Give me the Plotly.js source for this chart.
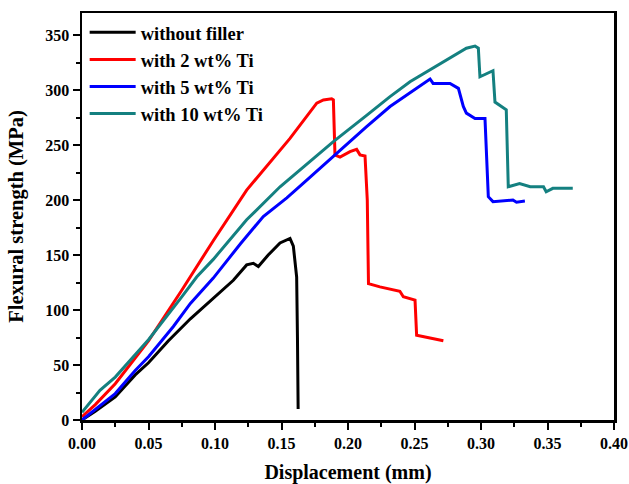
<!DOCTYPE html>
<html>
<head>
<meta charset="utf-8">
<script src="https://cdn.plot.ly/plotly-3.0.1.min.js"></script>
<style>
  html, body { margin: 0; padding: 0; background: #fff; }
  #chart { width: 629px; height: 484px; }
</style>
</head>
<body>
<div id="chart"></div>
<script>
// Flexural load-displacement curves, Ti-filled composites
const seriesNames = ["without filler", "with 2 wt% Ti", "with 5 wt% Ti", "with 10 wt% Ti"];
const seriesColors = ["#000000", "#ff0000", "#0000ff", "#148080"];

const xNoFiller = [0, 0.010, 0.025, 0.040, 0.050, 0.065, 0.0815, 0.0985, 0.1138, 0.1238, 0.1288, 0.1326, 0.140, 0.1489, 0.1564, 0.1589, 0.1614, 0.162, 0.1625];
const yNoFiller = [0, 8, 21, 41, 52, 72, 92, 110, 127, 141, 142.5, 139.5, 150, 161, 165, 158, 130, 75, 10];

const xTi2 = [0, 0.010, 0.025, 0.050, 0.075, 0.0987, 0.1238, 0.1489, 0.1564, 0.1765, 0.1815, 0.1877, 0.189, 0.1902, 0.194, 0.2015, 0.2065, 0.209, 0.2128, 0.2145, 0.2154, 0.224, 0.239, 0.2416, 0.2504, 0.2516, 0.2717];
const yTi2 = [3, 14, 33, 72, 118, 163, 209, 246, 256, 288, 291, 292, 291, 241, 239, 244, 246, 241, 240, 200, 124, 121, 117, 112, 109, 77, 72];

const xTi5 = [0, 0.0135, 0.025, 0.040, 0.050, 0.0687, 0.0815, 0.0987, 0.119, 0.1363, 0.154, 0.169, 0.179, 0.189, 0.214, 0.2316, 0.239, 0.2617, 0.264, 0.2767, 0.283, 0.2867, 0.289, 0.2955, 0.303, 0.3055, 0.309, 0.324, 0.3267, 0.333];
const yTi5 = [0, 13, 24, 45, 57.5, 85, 106, 129, 160, 185, 202, 218, 229, 239.5, 266.6, 285, 291, 310, 306, 306, 301.5, 285, 279, 274, 274, 203, 198.5, 200, 198, 199];

const xTi10 = [0, 0.0135, 0.025, 0.050, 0.075, 0.0862, 0.0987, 0.1238, 0.1489, 0.169, 0.189, 0.214, 0.2316, 0.2466, 0.264, 0.289, 0.2955, 0.298, 0.2992, 0.309, 0.3105, 0.3155, 0.319, 0.3205, 0.329, 0.337, 0.347, 0.349, 0.354, 0.369];
const yTi10 = [7, 27, 39, 73, 112, 130, 146, 182, 212, 233, 253, 277, 294, 307.5, 320, 338, 340, 338, 312, 317.5, 289, 285, 282, 212, 215, 212, 212, 207.5, 210.6, 210.6];

const xSets = [xNoFiller, xTi2, xTi5, xTi10];
const ySets = [yNoFiller, yTi2, yTi5, yTi10];

const traces = seriesNames.map((name, i) => ({
  type: "scatter",
  mode: "lines",
  name: name,
  x: xSets[i],
  y: ySets[i],
  line: { color: seriesColors[i], width: 3 }
}));

const serif = "Liberation Serif, Times New Roman, serif";

const axisCommon = {
  showline: true,
  linecolor: "#000",
  linewidth: 2.5,
  mirror: true,
  ticks: "outside",
  ticklen: 7,
  tickwidth: 2,
  tickcolor: "#000",
  showgrid: false,
  zeroline: false,
  tickfont: { family: serif, size: 16, color: "#000", weight: "bold" }
};

const layout = {
  width: 629,
  height: 484,
  margin: { l: 82, r: 15, t: 13, b: 64 },
  paper_bgcolor: "#fff",
  plot_bgcolor: "#fff",
  showlegend: true,
  legend: {
    x: 0.005, y: 0.998, xanchor: "left", yanchor: "top",
    bgcolor: "rgba(0,0,0,0)",
    font: { family: serif, size: 18.5, color: "#000", weight: "bold" },
    itemwidth: 46,
    tracegroupgap: 0
  },
  xaxis: Object.assign({}, axisCommon, {
    range: [0, 0.4],
    dtick: 0.05,
    tickformat: ".2f",
    minor: { dtick: 0.025, ticks: "outside", ticklen: 4, tickwidth: 2, tickcolor: "#000" },
    title: { text: "Displacement (mm)", standoff: 16,
             font: { family: serif, size: 20, color: "#000", weight: "bold" } }
  }),
  yaxis: Object.assign({}, axisCommon, {
    range: [0, 370],
    dtick: 50,
    minor: { dtick: 25, ticks: "outside", ticklen: 4, tickwidth: 2, tickcolor: "#000" },
    title: { text: "Flexural strength (MPa)", standoff: 16,
             font: { family: serif, size: 20.5, color: "#000", weight: "bold" } }
  })
};

Plotly.newPlot("chart", traces, layout, { displayModeBar: false, staticPlot: true });
</script>
</body>
</html>
